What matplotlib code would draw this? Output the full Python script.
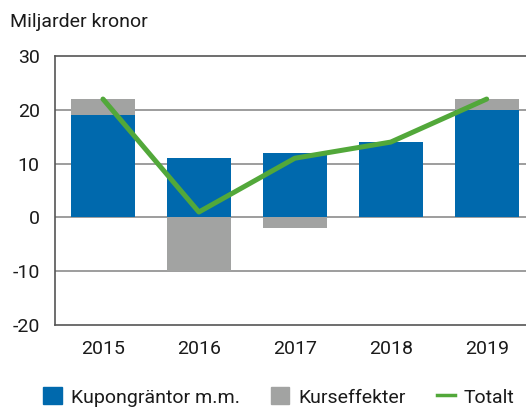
import numpy as np
import matplotlib.pyplot as plt
from matplotlib.patches import Patch
from matplotlib.lines import Line2D

plt.rcParams['font.family'] = ['Roboto', 'DejaVu Sans']

years = ['2015', '2016', '2017', '2018', '2019']
kupong = [19, 11, 12, 14, 20]
kurs = [3, -10, -2, 0, 2]
totalt = [22, 1, 11, 14, 22]

blue = '#0069ad'
grey = '#a2a3a2'
green = '#52a83a'

fig = plt.figure(figsize=(5.26, 4.09), dpi=100)
ax = fig.add_axes([55 / 526, 84 / 409, 471 / 526, 269 / 409])

x = np.arange(len(years))
kupong = np.array(kupong)
kurs = np.array(kurs)
# positive price effects stack on top of coupons, negative ones go below zero
kurs_bottom = np.where(kurs > 0, kupong, 0)

ax.bar(x, kupong, width=0.67, color=blue, zorder=2)
ax.bar(x, kurs, width=0.67, bottom=kurs_bottom, color=grey, zorder=2)
ax.plot(x, totalt, color=green, lw=3.6, zorder=3, solid_capstyle='round')

ax.set_ylim(-20, 30)
ax.set_xlim(-0.5, 4.41)
ax.set_yticks([-20, -10, 0, 10, 20, 30])
ax.set_yticklabels(['-20', '-10', '0', '10', '20', '30'])
ax.set_xticks(x)
ax.set_xticklabels(years)
ax.tick_params(length=0, labelsize=14, colors='#1a1a1a')
ax.tick_params(axis='y', pad=11)
ax.tick_params(axis='x', pad=11)

for y in [-10, 0, 10, 20]:
    ax.axhline(y, color='#8c8c8c', lw=1.2, zorder=1)

for s in ['left', 'top', 'bottom']:
    ax.spines[s].set_color('#555555')
    ax.spines[s].set_linewidth(1.2)
ax.spines['right'].set_visible(False)

fig.text(10 / 526, 1 - 22 / 409, 'Miljarder kronor', fontsize=14,
         ha='left', va='center', color='#1a1a1a')

handles = [Patch(color=blue, label='Kupongräntor m.m.'),
           Patch(color=grey, label='Kurseffekter'),
           Line2D([], [], color=green, lw=2.5, label='Totalt')]
fig.legend(handles=handles, loc='center', bbox_to_anchor=(279 / 526, 1 - 397 / 409),
           ncol=3, frameon=False, fontsize=14, handlelength=0.95, handleheight=0.95,
           handletextpad=0.45, columnspacing=1.6, borderpad=0, labelcolor='#1a1a1a')

fig.savefig('out.png', dpi=100)
